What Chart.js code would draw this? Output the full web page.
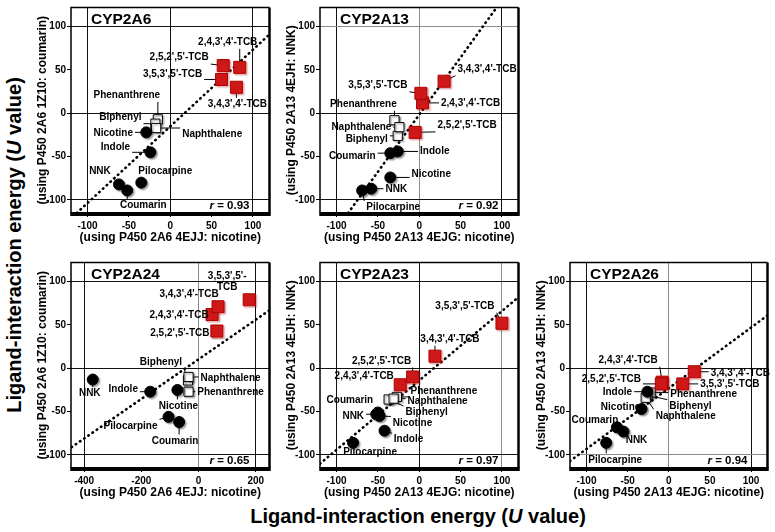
<!DOCTYPE html>
<html>
<head>
<meta charset="utf-8">
<script src="https://cdn.jsdelivr.net/npm/chart.js@4.4.1/dist/chart.umd.min.js"></script>
<style>
  body { margin: 0; background: #fff; width: 775px; height: 532px; position: relative; overflow: hidden;
         font-family: "Liberation Sans", Arial, Helvetica, sans-serif; }
  .big { position: absolute; font-weight: bold; font-size: 20px; white-space: nowrap; color: #000; }
  #xBig { left: 418px; top: 516px; transform: translate(-50%, -50%); }
  #yBig { left: 14px; top: 245px; transform: translate(-50%, -50%) rotate(-90deg); }
</style>
</head>
<body>
<div class="big" id="xBig">Ligand-interaction energy (<i>U</i> value)</div>
<div class="big" id="yBig">Ligand-interaction energy (<i>U</i> value)</div>
<script>
// compounds, same order in every panel
const compounds = ["2,4,3',4'-TCB", "2,5,2',5'-TCB", "3,5,3',5'-TCB", "3,4,3',4'-TCB",
  'Phenanthrene', 'Biphenyl', 'Naphthalene', 'Nicotine', 'Indole', 'NNK', 'Pilocarpine', 'Coumarin'];
const kinds = ['tcb', 'tcb', 'tcb', 'tcb', 'open', 'open', 'open',
  'ligand', 'ligand', 'ligand', 'ligand', 'ligand'];

// U values (x: nicotine-bound structure, y: other structure)
const a6X = [84, 64, 62, 80, -15, -18, -17, -29, -24, -62, -35, -52];
const a6Y = [53, 55, 39, 30, -7, -12, -17, -22, -45, -82, -80, -89];
const a13X = [4, -5, 2, 30, -30, -26, -24, -35, -26, -58, -69, -35];
const a13Y = [12, -22, 23, 37, -8, -26, -16, -74, -44, -87, -89, -46];
const a24X = [47, 64, 177, 68, -35, -37, -35, -74, -169, -370, -105, -68];
const a24Y = [62, 43, 79, 71, -27, -14, -10, -25, -27, -13, -56, -62];
const a23X = [-23, -8, 100, 19, -27, -37, -31, -48, -42, -52, -80, -50];
const a23Y = [-19, -10, 52, 14, -33, -36, -35, -55, -72, -53, -86, -51];
const a26X = [-8, -9, 17, 31, -22, -26, -28, -33, -26, -55, -76, -63];
const a26Y = [-16, -18, -18, -4, -28, -31, -34, -47, -27, -73, -86, -68];

// dotted trend lines (end points)
const a6FitX = [-113, 120], a6FitY = [-115, 91];
const a13FitX = [-86, 92], a13FitY = [-115, 120];
const a24FitX = [-444, 248], a24FitY = [-91, 67];
const a23FitX = [-120, 120], a23FitY = [-110, 82];
const a26FitX = [-120, 120], a26FitY = [-107, 61];

const rValues = ['0.93', '0.92', '0.65', '0.97', '0.94'];
const stdTicks = [-100, -50, 0, 50, 100];
const a24Ticks = [-400, -200, 0, 200];

const FONT = '"Liberation Sans", Arial, Helvetica, sans-serif';
Chart.defaults.font.family = FONT;
Chart.defaults.color = '#000';

const panels = [
  { name: 'CYP2A6', xs: a6X, ys: a6Y, fitX: a6FitX, fitY: a6FitY, r: rValues[0],
    left: 71, top: 1, w: 204, xMin: -120, xMax: 120, xTicks: stdTicks, xGrid: [-100, 0, 100],
    greyX: [], greyY: [], twoLine: [],
    xTitle: '(using P450 2A6 4EJJ: nicotine)', yTitle: '(using P450 2A6 1Z10: coumarin)',
    labelAt: [[-12, -25], [-44, -8], [-49, -5], [1, 17], [-31, -24], [-35, -6], [56, 6],
              [-33, 1], [-35, -5], [-19, -13], [24, -11], [16, 15]] },
  { name: 'CYP2A13', xs: a13X, ys: a13Y, fitX: a13FitX, fitY: a13FitY, r: rValues[1],
    left: 320, top: 1, w: 204, xMin: -120, xMax: 120, xTicks: stdTicks, xGrid: [-100, 0, 100],
    greyX: [0], greyY: [100], twoLine: [],
    xTitle: '(using P450 2A13 4EJG: nicotine)', yTitle: '(using P450 2A13 4EJH: NNK)',
    labelAt: [[48, 0], [52, -7], [-43, -8], [43, -12], [-31, -16], [-31, 3], [-38, 0],
              [41, -3], [37, 0], [25, 1], [31, 17], [-38, 3]] },
  { name: 'CYP2A24', xs: a24X, ys: a24Y, fitX: a24FitX, fitY: a24FitY, r: rValues[2],
    left: 71, top: 256, w: 204, xMin: -446, xMax: 248, xTicks: a24Ticks, xGrid: [-400, 0, 200],
    greyX: [0], greyY: [], twoLine: [2],
    xTitle: '(using P450 2A6 4EJJ: nicotine)', yTitle: '(using P450 2A6 1Z10: coumarin)',
    labelAt: [[-33, 1], [-37, 2], [-22, -18], [-29, -12], [42, 1], [-27, -18], [42, 1],
              [1, 16], [-27, -2], [-3, 14], [-38, 9], [-4, 19]] },
  { name: 'CYP2A23', xs: a23X, ys: a23Y, fitX: a23FitX, fitY: a23FitY, r: rValues[3],
    left: 320, top: 256, w: 204, xMin: -120, xMax: 120, xTicks: stdTicks, xGrid: [-100, 0, 100],
    greyX: [100], greyY: [], twoLine: [],
    xTitle: '(using P450 2A13 4EJG: nicotine)', yTitle: '(using P450 2A13 4EJH: NNK)',
    labelAt: [[-36, -9], [-31, -16], [-37, -17], [15, -17], [47, -6], [38, 13], [44, 3],
              [33, 7], [24, 9], [-23, 2], [17, 9], [-28, -12]] },
  { name: 'CYP2A26', xs: a26X, ys: a26Y, fitX: a26FitX, fitY: a26FitY, r: rValues[4],
    left: 570, top: 256, w: 203, xMin: -120, xMax: 120, xTicks: stdTicks, xGrid: [-100, 0, 100],
    greyX: [0], greyY: [-100], twoLine: [],
    xTitle: '(using P450 2A13 4EJG: nicotine)', yTitle: '(using P450 2A13 4EJH: NNK)',
    labelAt: [[-34, -22], [-50, -5], [47, 0], [46, 1], [53, 2], [43, 11], [40, 18],
              [-21, -2], [-30, 1], [13, 9], [9, 17], [-22, -7]] }
];

const PLOT_H = 212, AXW = 38, AXH = 32, PADT = 3, PADR = 4;
const Y_MIN = -115, Y_MAX = 122, Y_GRID = [-100, 0, 100];
const panelOf = new WeakMap();

function gridCol(tick, lines, greys) {
  if (!tick || !lines.includes(tick.value)) return 'rgba(0,0,0,0)';
  return greys.includes(tick.value) ? '#8c8c8c' : '#111';
}

function labelBoxes(chart, p) {
  const ctx = chart.ctx;
  ctx.font = 'bold 10px ' + FONT;
  return compounds.map((name, i) => {
    const px = chart.scales.x.getPixelForValue(p.xs[i]);
    const py = chart.scales.y.getPixelForValue(p.ys[i]);
    const lines = p.twoLine.includes(i) ? [name.slice(0, -3), 'TCB'] : [name];
    const tx = px + p.labelAt[i][0], ty = py + p.labelAt[i][1];
    const w = Math.max(...lines.map(l => ctx.measureText(l).width));
    return { px, py, tx, ty, w, h: lines.length * 11, lines };
  });
}

const panelDecor = {
  id: 'panelDecor',
  beforeDatasetsDraw(chart) {
    const p = panelOf.get(chart.canvas);
    const ctx = chart.ctx;
    ctx.save();
    ctx.strokeStyle = '#000';
    ctx.lineWidth = 1;
    labelBoxes(chart, p).forEach(b => {
      const x0 = b.tx - b.w / 2 - 2, x1 = b.tx + b.w / 2 + 2;
      const y0 = b.ty - b.h / 2 - 1, y1 = b.ty + b.h / 2 + 1;
      const nx = Math.min(Math.max(b.px, x0), x1);
      const ny = Math.min(Math.max(b.py, y0), y1);
      if (Math.hypot(nx - b.px, ny - b.py) > 5) {
        ctx.beginPath();
        ctx.moveTo(b.px, b.py);
        ctx.lineTo(nx, ny);
        ctx.stroke();
      }
    });
    ctx.restore();
  },
  beforeDatasetDraw(chart, args) {
    const ds = chart.data.datasets[args.index];
    if (!ds.marker) return;
    const ctx = chart.ctx;
    ctx.save();
    ctx.shadowColor = ds.marker === 'tcb' ? 'rgba(160,40,40,0.45)' : 'rgba(0,0,0,0.35)';
    ctx.shadowOffsetX = 1.5;
    ctx.shadowOffsetY = 1.5;
    ctx.shadowBlur = 1.5;
  },
  afterDatasetDraw(chart, args) {
    if (chart.data.datasets[args.index].marker) chart.ctx.restore();
  },
  afterDatasetsDraw(chart) {
    const p = panelOf.get(chart.canvas);
    const ctx = chart.ctx;
    ctx.save();
    ctx.fillStyle = '#000';
    ctx.font = 'bold 10px ' + FONT;
    ctx.textAlign = 'center';
    ctx.textBaseline = 'middle';
    labelBoxes(chart, p).forEach(b => {
      b.lines.forEach((l, k) => {
        ctx.fillText(l, b.tx, b.ty - (b.lines.length - 1) * 5.5 + k * 11);
      });
    });
    ctx.restore();
  },
  afterDraw(chart) {
    const p = panelOf.get(chart.canvas);
    const ctx = chart.ctx;
    const a = chart.chartArea;
    ctx.save();
    ctx.strokeStyle = '#000';
    ctx.lineWidth = 1.5;
    ctx.beginPath();
    ctx.moveTo(a.left, a.bottom);
    ctx.lineTo(a.left, a.top);
    ctx.lineTo(a.right, a.top);
    ctx.stroke();
    ctx.lineWidth = 2.5;
    ctx.beginPath();
    ctx.moveTo(a.right, a.top);
    ctx.lineTo(a.right, a.bottom);
    ctx.stroke();
    ctx.fillStyle = '#000';
    ctx.fillRect(a.left - 0.75, a.bottom - 1, a.right - a.left + 2, 4);

    // panel name
    ctx.font = 'bold 15.5px ' + FONT;
    ctx.textAlign = 'left';
    ctx.textBaseline = 'middle';
    ctx.fillText(p.name, a.left + 20, a.top + 12);

    // correlation coefficient
    ctx.font = 'bold 11.5px ' + FONT;
    ctx.textBaseline = 'middle';
    ctx.textAlign = 'right';
    const rest = ' = ' + p.r;
    const restW = ctx.measureText(rest).width;
    const rx = a.right - 20, ry = a.bottom - 7;
    ctx.fillText(rest, rx, ry);
    ctx.font = 'italic bold 11.5px ' + FONT;
    ctx.fillText('r', rx - restW, ry);
    ctx.restore();
  }
};

const markerStyle = {
  tcb:    { pointStyle: 'rect', pointRadius: 8.5, backgroundColor: '#d01818', borderColor: '#b80000', borderWidth: 1 },
  ligand: { pointStyle: 'circle', pointRadius: 5.5, backgroundColor: '#000', borderColor: '#000', borderWidth: 1 },
  open:   { pointStyle: 'rect', pointRadius: 6.5, backgroundColor: '#fff', borderColor: '#000', borderWidth: 1 }
};

function makeChart(p) {
  const canvas = document.createElement('canvas');
  canvas.width = p.w + AXW + PADR;
  canvas.height = PLOT_H + PADT + AXH;
  canvas.style.position = 'absolute';
  canvas.style.left = (p.left - AXW) + 'px';
  canvas.style.top = (p.top - PADT) + 'px';
  document.body.appendChild(canvas);
  panelOf.set(canvas, p);

  const datasets = ['tcb', 'ligand', 'open'].map(k => Object.assign({
    marker: k,
    data: compounds.map((c, i) => ({ x: p.xs[i], y: p.ys[i], kind: kinds[i] }))
                   .filter(d => d.kind === k),
    pointHoverRadius: 0
  }, markerStyle[k]));
  datasets.push({
    data: p.fitX.map((x, i) => ({ x, y: p.fitY[i] })),
    showLine: true,
    pointRadius: 0,
    borderColor: '#000',
    borderWidth: 2.6,
    borderDash: [0.5, 4.6],
    borderCapStyle: 'round'
  });

  new Chart(canvas, {
    type: 'scatter',
    data: { datasets },
    options: {
      responsive: false,
      animation: false,
      events: [],
      layout: { padding: { top: PADT, right: PADR, left: 0, bottom: 0 } },
      plugins: { legend: { display: false }, tooltip: { enabled: false } },
      scales: {
        x: {
          type: 'linear', min: p.xMin, max: p.xMax,
          afterBuildTicks: ax => { ax.ticks = p.xTicks.map(v => ({ value: v })); },
          afterFit: ax => { ax.height = AXH; },
          ticks: { font: { size: 10, weight: 'bold' }, color: '#000', padding: 3, maxRotation: 0, autoSkip: false },
          grid: { color: c => gridCol(c.tick, p.xGrid, p.greyX), lineWidth: 1,
                  tickLength: 4, tickColor: '#000', tickWidth: 1 },
          border: { display: false },
          title: { display: true, text: p.xTitle, color: '#000',
                   font: { size: 12, weight: 'bold' }, padding: { top: 0, bottom: 0 } }
        },
        y: {
          type: 'linear', min: Y_MIN, max: Y_MAX,
          afterBuildTicks: ax => { ax.ticks = stdTicks.map(v => ({ value: v })); },
          afterFit: ax => { ax.width = AXW; },
          ticks: { font: { size: 10, weight: 'bold' }, color: '#000', padding: 1, autoSkip: false },
          grid: { color: c => gridCol(c.tick, Y_GRID, p.greyY), lineWidth: 1,
                  tickLength: 4, tickColor: '#000', tickWidth: 1 },
          border: { display: false },
          title: { display: true, text: p.yTitle, color: '#000',
                   font: { size: 12, weight: 'bold' }, padding: { top: 2, bottom: 0 } }
        }
      }
    },
    plugins: [panelDecor]
  });
}

panels.forEach(makeChart);
</script>
</body>
</html>
